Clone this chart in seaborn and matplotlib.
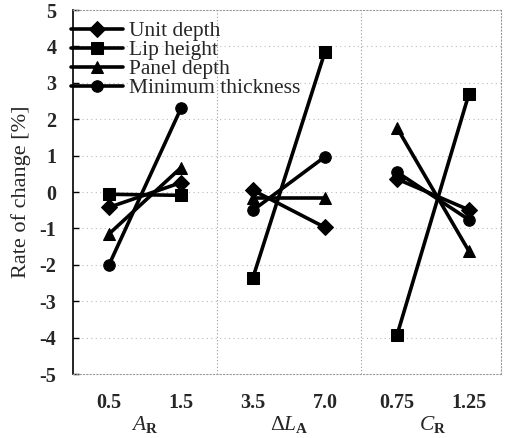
import matplotlib
matplotlib.use("Agg")
import matplotlib.pyplot as plt
import seaborn as sns
import pandas as pd

sns.set_theme(style="white")
plt.rcParams['font.family'] = ['Liberation Serif', 'DejaVu Serif']
plt.rcParams['mathtext.fontset'] = 'custom'
plt.rcParams['mathtext.rm'] = 'Liberation Serif'
plt.rcParams['mathtext.it'] = 'Liberation Serif:italic'
plt.rcParams['mathtext.bf'] = 'Liberation Serif:bold'

groups = [r'$A_\mathbf{R}$', r'$\Delta L_\mathbf{A}$', r'$C_\mathbf{R}$']
tick_labels = ['0.5', '1.5', '3.5', '7.0', '0.75', '1.25']
series = ['Unit depth', 'Lip height', 'Panel depth', 'Minimum thickness']
markers = {'Unit depth': 'D', 'Lip height': 's', 'Panel depth': '^', 'Minimum thickness': 'o'}

unit_depth = [-0.42, 0.26, 0.05, -0.97, 0.36, -0.49]
lip_height = [-0.06, -0.09, -2.35, 3.85, -3.94, 2.69]
panel_depth = [-1.15, 0.67, -0.15, -0.15, 1.77, -1.62]
min_thickness = [-2.0, 2.3, -0.5, 0.97, 0.55, -0.76]

values = {'Unit depth': unit_depth, 'Lip height': lip_height,
          'Panel depth': panel_depth, 'Minimum thickness': min_thickness}

rows = []
for s in series:
    for i, v in enumerate(values[s]):
        rows.append({'series': s, 'pos': i, 'group': i // 2, 'value': v})
df = pd.DataFrame(rows)

fig = plt.figure(figsize=(5.05, 4.38), dpi=100)
ax = fig.add_axes([0.1446, 0.146, 0.848, 0.831])

for g in range(3):
    sub = df[df['group'] == g]
    sns.lineplot(data=sub, x='pos', y='value', style='series', style_order=series,
                 markers=markers, dashes=False, color='black', linewidth=2.6,
                 markersize=8.3, markeredgecolor='black', ax=ax,
                 legend=(g == 0), sort=False, estimator=None)

ax.set_xlim(-0.5, 5.45)
ax.set_ylim(-5, 5)
ax.set_yticks(range(-5, 6))
ax.set_yticklabels([str(v) for v in range(-5, 6)], fontsize=14.5, fontweight='bold')
ax.set_xticks(range(6))
ax.set_xticklabels(tick_labels, fontsize=14.5, fontweight='bold')
ax.tick_params(axis='x', length=0, pad=14)
ax.tick_params(axis='y', direction='in', length=4, width=1, color='black', left=True, pad=12)
ax.set_xlabel('')
ax.set_ylabel('Rate of change [%]', fontsize=16, labelpad=6)

for y in range(-4, 5):
    ax.axhline(y, color='#bbbbbb', lw=0.8, ls=(0, (1, 3)), zorder=0)
for x in [1.5, 3.5]:
    ax.axvline(x, color='#999999', lw=0.8, ls=(0, (1, 2)), zorder=0)

for side in ['top', 'right', 'bottom']:
    ax.spines[side].set_linestyle((0, (1, 2)))
    ax.spines[side].set_color('#999999')
    ax.spines[side].set_linewidth(0.8)
ax.spines['left'].set_color('black')
ax.spines['left'].set_linewidth(1.2)

for g, label in enumerate(groups):
    ax.text(2 * g + 0.5, -0.154, label, transform=ax.get_xaxis_transform(),
            ha='center', va='baseline', fontsize=15.5)

leg = ax.legend(loc='upper left', frameon=False, fontsize=15.5, handlelength=2.4,
                handletextpad=0.3, labelspacing=-0.05, borderaxespad=0.0, borderpad=0.0,
                bbox_to_anchor=(-0.004, 0.97))
for h in leg.legend_handles:
    h.set_color('black')
    h.set_linewidth(2.6)

fig.savefig('out.png', dpi=100)
